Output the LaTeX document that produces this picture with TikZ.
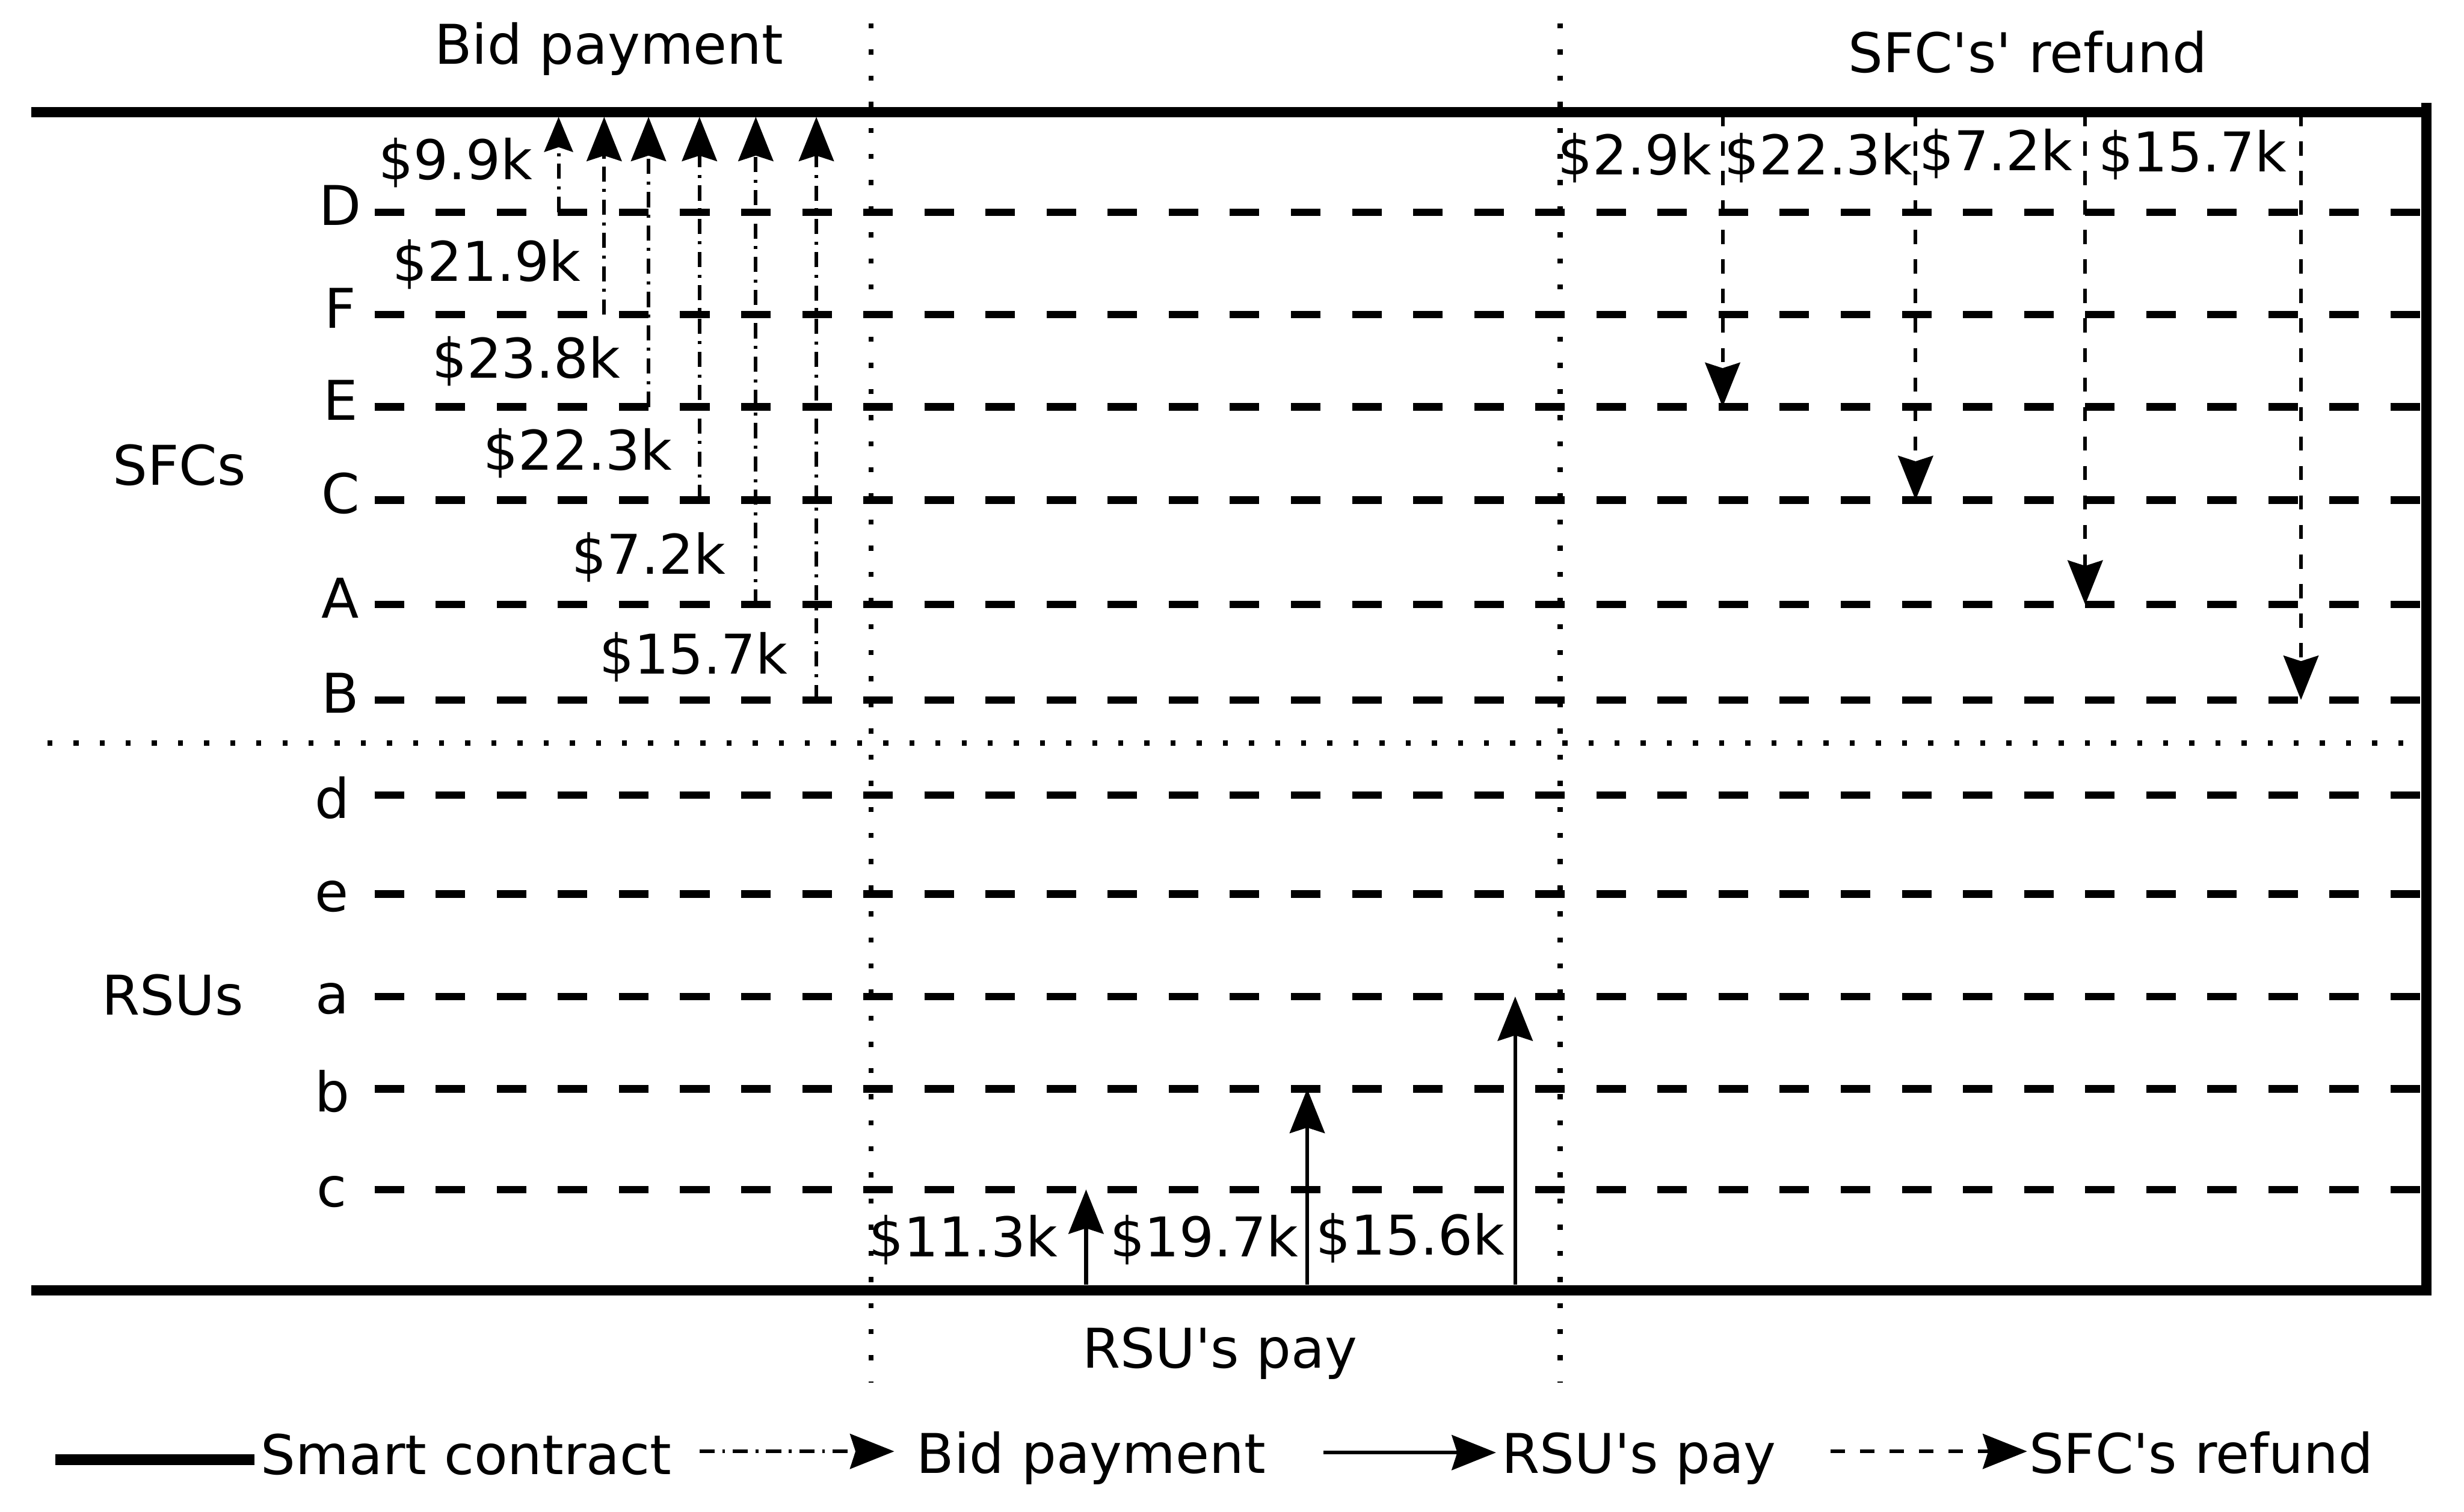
\documentclass[tikz,border=0pt]{standalone}
\usepackage{fontspec}
\newfontfamily\dejavu{DejaVu Sans}
\usetikzlibrary{positioning,arrows.meta}

\tikzset{
	moneytip/.style={-{Stealth[length=10.5pt,width=8.3pt,inset=1.3pt]}},
	contract/.style={line width=2.4pt},
	lane/.style={line width=1.75pt,dash pattern=on 7pt off 7.5pt},
	stagebreak/.style={line width=1.2pt,dash pattern=on 1.2pt off 5pt},
	bid/.style={moneytip,line width=0.85pt,dash pattern=on 3.6pt off 1.8pt on 0.7pt off 1.8pt},
	pay/.style={moneytip,line width=0.9pt},
	refund/.style={moneytip,line width=0.85pt,dash pattern=on 3.4pt off 3.6pt}
}

\begin{document}
\begin{tikzpicture}[
		x=0.5cm,y=-0.5cm,
		every node/.style={
			font=\dejavu\fontsize{13}{15}\selectfont,
			inner sep=0pt
		}
		]
		\useasboundingbox (0,0) rectangle (41.11,25.23);
		
		% smart contract
		\coordinate (sc-nw) at (0.52,1.87);
		\coordinate (sc-ne) at (40.40,1.87);
		\coordinate (sc-sw) at (0.52,21.53);
		\coordinate (sc-se) at (40.40,21.53);
		\coordinate (sc-rtop) at (40.48,1.72);
		\coordinate (sc-rbot) at (40.48,21.62);
		\coordinate (top) at (0,1.95);
		\coordinate (bottom) at (0,21.44);
		\draw[contract] (sc-nw)--(sc-ne);
		\draw[contract] (sc-sw)--(sc-se);
		\draw[contract] (sc-rtop)--(sc-rbot);
		
		% stages
		\coordinate (bidend-n) at (14.53,0.39);
		\coordinate (bidend-s) at (14.53,23.07);
		\coordinate (payend-n) at (26.03,0.39);
		\coordinate (payend-s) at (26.03,23.07);
		\coordinate (split-w) at (0.79,12.40);
		\coordinate (split-e) at (40.46,12.40);
		\draw[stagebreak] (bidend-n)--(bidend-s);
		\draw[stagebreak] (payend-n)--(payend-s);
		\draw[stagebreak] (split-w)--(split-e);
		
		\node (t-bid) at (10.16,0.82) {Bid payment};
		\node (t-refund) at (33.83,0.87) {SFC's' refund};
		\node (t-pay) at (20.35,22.58) {RSU's pay};
		\node (sfcs) at (2.99,7.76) {SFCs};
		\node (rsus) at (2.88,16.60) {RSUs};
		
		% SFC and RSU lines
		\foreach \row/\y in {D/3.54,F/5.25,E/6.79,C/8.345,A/10.09,B/11.68}{
			\node (\row) at (5.68,\y-0.11) {\row};
			\coordinate (\row-w) at (6.25,\y);
			\coordinate (\row-e) at (40.40,\y);
			\draw[lane] (\row-w)--(\row-e);
		}
		\foreach \row/\y in {d/13.27,e/14.92,a/16.63,b/18.17,c/19.85}{
			\node (\row) at (5.54,\y+0.04) {\row};
			\coordinate (\row-w) at (6.25,\y);
			\coordinate (\row-e) at (40.40,\y);
			\draw[lane] (\row-w)--(\row-e);
		}
		
		% bid payment
		\draw[bid,-{Stealth[length=8.3pt,width=6.8pt,inset=1.1pt]}] (9.32,0 |- D-w)--(9.32,0 |- top);
		\node (bid-D) at (7.60,2.72) {\$9.9k};
		\foreach \row/\x/\amt/\lx/\ly in {F/10.08/21.9/8.12/4.41,E/10.82/23.8/8.78/6.03,C/11.67/22.3/9.64/7.56,A/12.61/7.2/10.82/9.30,B/13.62/15.7/11.57/10.97}{
			\draw[bid] (\x,0 |- \row-w)--(\x,0 |- top);
			\node (bid-\row) at (\lx,\ly) {\$\amt k};
		}
		
		% RSU's pay
		\foreach \row/\x/\amt/\lx/\ly in {c/18.12/11.3/16.07/20.69,b/21.81/19.7/20.09/20.69,a/25.28/15.6/23.53/20.66}{
			\draw[pay] (\x,0 |- bottom)--(\x,0 |- \row-w);
			\node (pay-\row) at (\lx,\ly) {\$\amt k};
		}
		
		% SFC's refund
		\foreach \row/\x/\amt/\lx/\ly in {E/28.74/2.9/27.27/2.64,C/31.96/22.3/30.34/2.64,A/34.79/7.2/33.30/2.57,B/38.39/15.7/36.58/2.59}{
			\draw[refund] (\x,0 |- sc-nw)--(\x,0 |- \row-w);
			\node (ref-\row) at (\lx,\ly) {\$\amt k};
		}
		
		% legend
		\node[anchor=base west] (lg-contract) at (4.34,24.60) {Smart contract};
		\node[anchor=base west] (lg-bid) at (15.28,24.58) {Bid payment};
		\node[anchor=base west] (lg-pay) at (25.04,24.58) {RSU's pay};
		\node[anchor=base west] (lg-refund) at (33.84,24.58) {SFC's refund};
		\coordinate (lg-contract-w) at (0.92,24.36);
		\coordinate (lg-contract-e) at (4.25,24.36);
		\coordinate (lg-bid-w) at (11.67,24.22);
		\coordinate (lg-bid-e) at (14.92,24.22);
		\coordinate (lg-pay-w) at (22.08,24.24);
		\coordinate (lg-pay-e) at (24.96,24.24);
		\coordinate (lg-refund-w) at (30.54,24.22);
		\coordinate (lg-refund-e) at (33.82,24.22);
		\draw[contract,line width=2.5pt] (lg-contract-w)--(lg-contract-e);
		\draw[bid] (lg-bid-w)--(lg-bid-e);
		\draw[pay] (lg-pay-w)--(lg-pay-e);
		\draw[refund] (lg-refund-w)--(lg-refund-e);
		
	\end{tikzpicture}
\end{document}
